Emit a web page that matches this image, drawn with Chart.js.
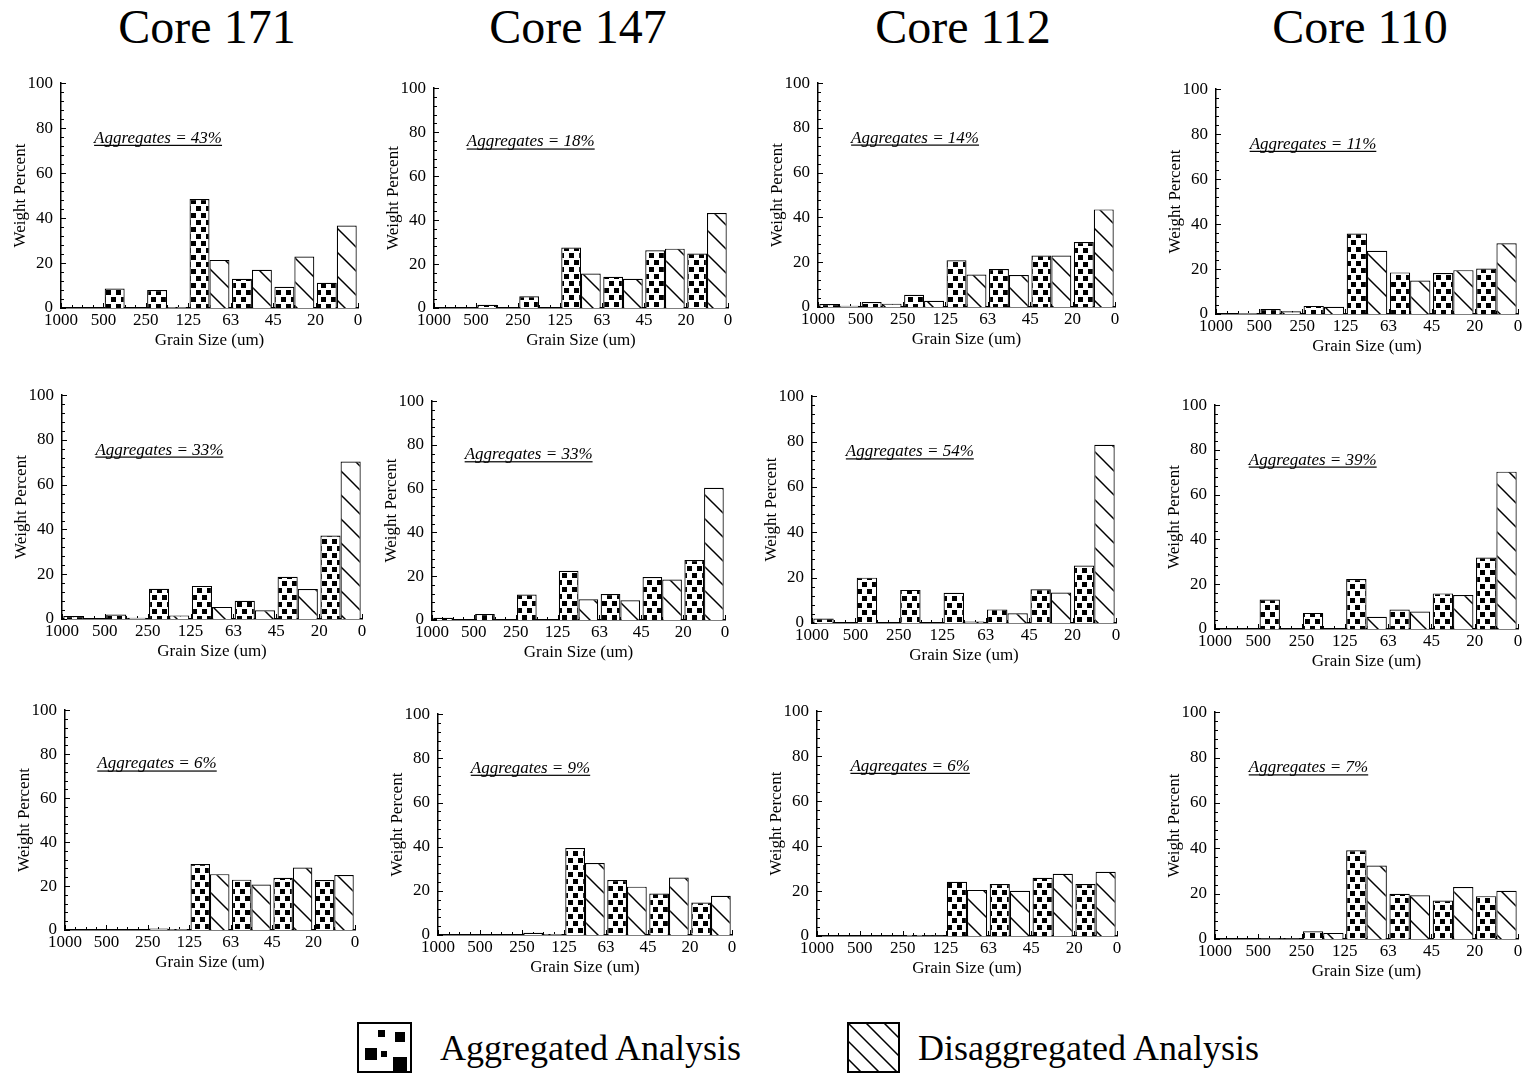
<!DOCTYPE html>
<html>
<head>
<meta charset="utf-8">
<script src="https://cdn.jsdelivr.net/npm/chart.js@4.4.1/dist/chart.umd.min.js"></script>
<style>
  body { margin: 0; background: #fff; width: 1529px; height: 1073px; position: relative; overflow: hidden;
         font-family: "Liberation Serif", "Times New Roman", serif; color: #000; }
  .core { position: absolute; top: 3px; font-size: 48px; line-height: 48px; transform: translateX(-50%); white-space: nowrap; }
  .panel { position: absolute; }
  .legtext { position: absolute; top: 1030px; font-size: 36px; line-height: 36px; white-space: nowrap; }
  .swatch { position: absolute; }
</style>
</head>
<body>
<script>
// grain size bins (µm) and the bin edges shown on the axis
const binLabels = ['1000-500', '500-250', '250-125', '125-63', '63-45', '45-20', '20-0'];
const edgeLabels = ['1000', '500', '250', '125', '63', '45', '20', '0'];
const cores = ['Core 171', 'Core 147', 'Core 112', 'Core 110'];

// top row
const c171_1_agg = [0, 8.7, 8.0, 48.5, 13.0, 9.4, 11.2];
const c171_1_dis = [0, 0, 0.4, 21.4, 17.0, 22.9, 36.7];
const c147_1_agg = [0, 1.5, 5.3, 27.5, 14.2, 26.3, 24.8];
const c147_1_dis = [0, 0, 0, 15.7, 13.3, 27.0, 43.2];
const c112_1_agg = [1.3, 2.2, 5.5, 20.9, 17.0, 23.0, 29.0];
const c112_1_dis = [0.6, 1.5, 2.8, 14.5, 14.3, 23.0, 43.6];
const c110_1_agg = [0, 2.2, 3.6, 35.8, 18.5, 18.2, 20.2];
const c110_1_dis = [0.4, 1.2, 3.2, 28.1, 14.9, 19.5, 31.5];

// middle row
const c171_2_agg = [1.3, 2.0, 13.5, 14.8, 8.1, 18.9, 37.3];
const c171_2_dis = [0, 0.6, 1.6, 5.4, 3.9, 13.4, 70.4];
const c147_2_agg = [1.0, 2.7, 11.6, 22.5, 11.9, 19.6, 27.4];
const c147_2_dis = [0, 0, 0, 9.5, 9.0, 18.5, 60.4];
const c112_2_agg = [2.0, 20.0, 14.6, 13.3, 6.0, 14.9, 25.3];
const c112_2_dis = [0, 0, 0, 0.7, 4.3, 13.4, 78.6];
const c110_2_agg = [0, 13.2, 7.2, 22.3, 8.7, 15.9, 31.9];
const c110_2_dis = [0, 0, 0, 5.5, 7.8, 15.2, 70.3];

// bottom row
const c171_3_agg = [0, 0, 0.7, 30.0, 22.9, 23.8, 22.7];
const c171_3_dis = [0, 0, 0.4, 25.4, 20.7, 28.4, 25.0];
const c147_3_agg = [0, 0, 1.0, 39.4, 24.9, 18.8, 14.7];
const c147_3_dis = [0, 0, 0.5, 32.6, 21.9, 26.0, 17.8];
const c112_3_agg = [0, 0, 0.4, 24.1, 23.1, 25.9, 23.1];
const c112_3_dis = [0, 0, 0.2, 20.5, 20.1, 27.7, 28.6];
const c110_3_agg = [0, 0.3, 3.4, 39.1, 19.9, 17.0, 18.9];
const c110_3_dis = [0, 0.3, 2.7, 32.4, 19.3, 22.9, 21.3];

const aggregatesPct = [43, 18, 14, 11, 33, 33, 54, 39, 6, 9, 6, 7];

const panels = [
  [c171_1_agg, c171_1_dis], [c147_1_agg, c147_1_dis], [c112_1_agg, c112_1_dis], [c110_1_agg, c110_1_dis],
  [c171_2_agg, c171_2_dis], [c147_2_agg, c147_2_dis], [c112_2_agg, c112_2_dis], [c110_2_agg, c110_2_dis],
  [c171_3_agg, c171_3_dis], [c147_3_agg, c147_3_dis], [c112_3_agg, c112_3_dis], [c110_3_agg, c110_3_dis]
];

// plot area of each panel: left, top (100%), right, bottom (0%)
const plotBoxes = [
  [61, 77, 358, 308], [434, 82, 728, 308], [818, 77, 1115, 307], [1216, 83, 1518, 314],
  [62, 389, 362, 619], [432, 395, 725, 620], [812, 390, 1116, 623], [1215, 399, 1518, 629],
  [65, 704, 355, 930], [438, 708, 732, 935], [817, 705, 1117, 936], [1215, 706, 1518, 939]
];
const titleCenters = [207, 578, 963, 1360];

const FONT = '"Liberation Serif", "Times New Roman", serif';
const Y_W = 55, X_H = 47, PAD_T = 12, PAD_R = 12;

cores.forEach((t, i) => {
  const d = document.createElement('div');
  d.className = 'core';
  d.style.left = titleCenters[i] + 'px';
  d.textContent = t;
  document.body.appendChild(d);
});

function dotPattern(ctx) {
  const c = document.createElement('canvas');
  c.width = 10; c.height = 14;
  const g = c.getContext('2d');
  g.fillStyle = '#fff'; g.fillRect(0, 0, 10, 14);
  g.fillStyle = '#000';
  g.fillRect(0, 1, 5, 5);
  g.fillRect(5, 8, 5, 5);
  return ctx.createPattern(c, 'repeat');
}

function hatchPattern(ctx) {
  const s = 24;
  const c = document.createElement('canvas');
  c.width = s; c.height = s;
  const g = c.getContext('2d');
  g.fillStyle = '#fff'; g.fillRect(0, 0, s, s);
  g.strokeStyle = '#000'; g.lineWidth = 1.5;
  for (const k of [-1, 0, 1]) {
    g.beginPath();
    g.moveTo(-2, -2 + k * s);
    g.lineTo(s + 2, s + 2 + k * s);
    g.stroke();
  }
  return ctx.createPattern(c, 'repeat');
}

// inward minor ticks and the "Aggregates = n%" note
const decor = {
  id: 'decor',
  beforeDatasetsDraw(chart) {
    const {ctx, chartArea} = chart;
    const xs = chart.scales.xe, ys = chart.scales.y;
    ctx.save();
    ctx.strokeStyle = '#000';
    ctx.lineWidth = 1;
    for (let v = 0; v <= 100; v += 4) {
      const py = Math.round(ys.getPixelForValue(v)) + 0.5;
      const len = v % 20 === 0 ? 5 : 3;
      ctx.beginPath(); ctx.moveTo(chartArea.left, py); ctx.lineTo(chartArea.left + len, py); ctx.stroke();
    }
    for (let v = 0; v <= 28; v++) {
      const px = Math.round(xs.getPixelForValue(v / 4)) + 0.5;
      const len = v % 4 === 0 ? 5 : 3;
      ctx.beginPath(); ctx.moveTo(px, chartArea.bottom); ctx.lineTo(px, chartArea.bottom - len); ctx.stroke();
    }
    ctx.restore();
  },
  afterDraw(chart, args, opts) {
    const {ctx} = chart;
    const xs = chart.scales.xe, ys = chart.scales.y;
    const text = 'Aggregates = ' + opts.pct + '%';
    ctx.save();
    ctx.font = 'italic 17px ' + FONT;
    ctx.fillStyle = '#000';
    ctx.textBaseline = 'alphabetic';
    const tx = xs.getPixelForValue(0.78), ty = ys.getPixelForValue(73.5);
    ctx.fillText(text, tx, ty);
    const w = ctx.measureText(text).width;
    ctx.fillRect(tx, ty + 2, w, 1.2);
    ctx.restore();
  }
};

panels.forEach((p, i) => {
  const [L, T, R, B] = plotBoxes[i];
  const wrap = document.createElement('div');
  wrap.className = 'panel';
  wrap.style.left = (L - Y_W) + 'px';
  wrap.style.top = (T - PAD_T) + 'px';
  const cv = document.createElement('canvas');
  cv.width = R - L + Y_W + PAD_R;
  cv.height = B - T + PAD_T + X_H;
  wrap.appendChild(cv);
  document.body.appendChild(wrap);
  const ctx = cv.getContext('2d');

  new Chart(cv, {
    type: 'bar',
    data: {
      labels: binLabels,
      datasets: [
        { label: 'Aggregated Analysis', data: p[0], backgroundColor: dotPattern(ctx),
          borderColor: '#000', borderWidth: 1.2, categoryPercentage: 0.94, barPercentage: 1 },
        { label: 'Disaggregated Analysis', data: p[1], backgroundColor: hatchPattern(ctx),
          borderColor: '#000', borderWidth: 1.2, categoryPercentage: 0.94, barPercentage: 1 }
      ]
    },
    options: {
      responsive: false,
      animation: false,
      layout: { padding: { top: PAD_T, right: PAD_R, left: 0, bottom: 0 } },
      plugins: { legend: { display: false }, tooltip: { enabled: false }, decor: { pct: aggregatesPct[i] } },
      scales: {
        x: { display: false, offset: true },
        xe: {
          type: 'linear', position: 'bottom', min: 0, max: 7, offset: false,
          afterFit: s => { s.height = X_H; },
          grid: { display: false, drawTicks: false, offset: false },
          border: { color: '#000', width: 1.5 },
          ticks: { stepSize: 1, autoSkip: false, maxRotation: 0, padding: 2, color: '#000',
                   font: { family: FONT, size: 17 }, callback: v => edgeLabels[v] },
          title: { display: true, text: 'Grain Size (um)', color: '#000',
                   font: { family: FONT, size: 17 }, padding: { top: 0, bottom: 4 } }
        },
        y: {
          min: 0, max: 100,
          afterFit: s => { s.width = Y_W; },
          grid: { display: false, drawTicks: false },
          border: { color: '#000', width: 1.5 },
          ticks: { stepSize: 20, padding: 8, color: '#000', font: { family: FONT, size: 17 } },
          title: { display: true, text: 'Weight Percent', color: '#000',
                   font: { family: FONT, size: 17 }, padding: { top: 4, bottom: 0 } }
        }
      }
    },
    plugins: [decor]
  });
});

// legend
function swatch(x, y, w, h, draw) {
  const c = document.createElement('canvas');
  c.className = 'swatch';
  c.width = w; c.height = h;
  c.style.left = x + 'px'; c.style.top = y + 'px';
  document.body.appendChild(c);
  const g = c.getContext('2d');
  g.fillStyle = '#fff'; g.fillRect(0, 0, w, h);
  draw(g, w, h);
  g.strokeStyle = '#000'; g.lineWidth = 2;
  g.strokeRect(1, 1, w - 2, h - 2);
}
swatch(357, 1022, 55, 51, g => {
  g.fillStyle = '#000';
  g.fillRect(8, 26, 12, 12);
  g.fillRect(21, 8, 7, 7);
  g.fillRect(24, 29, 6, 6);
  g.fillRect(38, 10, 10, 10);
  g.fillRect(36, 35, 14, 14);
});
swatch(847, 1022, 53, 51, (g, w, h) => {
  g.strokeStyle = '#000'; g.lineWidth = 1.5;
  for (let k = -3; k <= 3; k++) {
    g.beginPath();
    g.moveTo(0, k * 18);
    g.lineTo(w, w + k * 18);
    g.stroke();
  }
});
[['Aggregated Analysis', 440], ['Disaggregated Analysis', 918]].forEach(([t, x]) => {
  const d = document.createElement('div');
  d.className = 'legtext';
  d.style.left = x + 'px';
  d.textContent = t;
  document.body.appendChild(d);
});
</script>
</body>
</html>
